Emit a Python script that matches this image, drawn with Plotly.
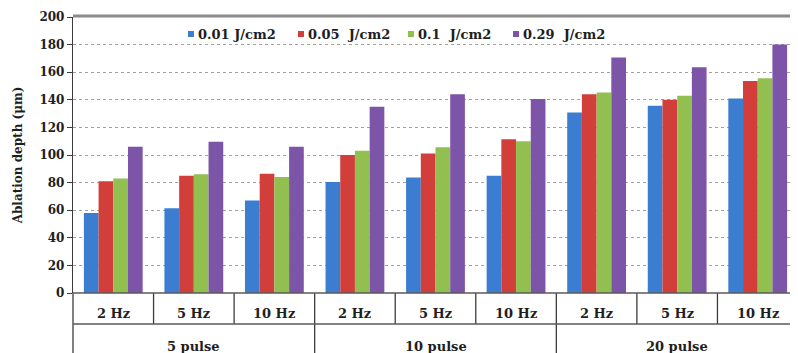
import plotly.graph_objects as go

groups = ["5 pulse", "10 pulse", "20 pulse"]
freqs = ["2 Hz", "5 Hz", "10 Hz"]
series_names = ["0.01 J/cm2", "0.05  J/cm2", "0.1  J/cm2", "0.29  J/cm2"]
s001 = [58, 61.5, 67, 80.5, 83.7, 85, 130.8, 135.6, 141]
s005 = [81, 85, 86.4, 100, 101, 111.5, 144, 140, 153.6]
s01 = [83, 86, 84, 103, 105.7, 110, 145.3, 143, 155.6]
s029 = [106, 109.6, 106, 135, 144, 140.5, 170.7, 163.5, 180]
colors = ["#3B7DD0", "#D23F3A", "#92C050", "#7D55A8"]

FONT = "DejaVu Serif, Liberation Serif, serif"
TXT = "#1e1e1e"
n = len(groups) * len(freqs)
xs = list(range(n))
xmin, xmax = -0.5, n - 0.5

# page body has an 8px margin: compensate so the plot area sits at x 73..798, y 17..293
OFF = 8
W, H = 798 - OFF, 353 - OFF
ML, MT, MB, MR = 73 - OFF, 17 - OFF, 60, 0
PW = W - ML - MR
PH = H - MT - MB


def px(v):
    return (v - xmin) / (xmax - xmin)


def pxx(p):  # screen x -> paper x
    return (p - 73) / PW


def pyy(p):  # screen y -> paper y
    return (293 - p) / PH


fig = go.Figure()
for name, vals, c in zip(series_names, [s001, s005, s01, s029], colors):
    fig.add_trace(go.Bar(x=xs, y=vals, name=name, showlegend=False,
                         marker=dict(color=c, line=dict(width=0))))

shapes = []
annotations = []
row1 = pyy(324)
row2 = pyy(353) - 0.01
for k in range(n + 1):
    xb = px(k - 0.5)
    is_group = (k % len(freqs) == 0)
    shapes.append(dict(type="line", xref="paper", yref="paper", x0=xb, x1=xb,
                       y0=0, y1=row2 if is_group else row1,
                       line=dict(color="#3c3c3c", width=1.3)))
shapes.append(dict(type="line", xref="paper", yref="paper", x0=0, x1=1, y0=row1, y1=row1,
                   line=dict(color="#5a5a5a", width=1.6)))
shapes.append(dict(type="line", xref="paper", yref="paper", x0=0, x1=1, y0=0, y1=0,
                   line=dict(color="#5a5a5a", width=1.5)))
shapes.append(dict(type="line", xref="paper", yref="paper", x0=0, x1=1, y0=pyy(16), y1=pyy(16),
                   line=dict(color="#8a8a8a", width=3)))

for gi, g in enumerate(groups):
    for fi, f in enumerate(freqs):
        annotations.append(dict(x=gi * len(freqs) + fi, xref="x", y=pyy(313), yref="paper",
                                text=f, showarrow=False, yanchor="middle",
                                font=dict(family=FONT, size=13, color=TXT, weight="bold")))
    annotations.append(dict(x=gi * len(freqs) + 1, xref="x", y=pyy(346), yref="paper",
                            text=g, showarrow=False, yanchor="middle",
                            font=dict(family=FONT, size=13, color=TXT, weight="bold")))

# legend drawn as swatches + text along the top of the plot
leg_left = [188, 298, 408, 513]
for name, c, lx in zip(series_names, colors, leg_left):
    shapes.append(dict(type="rect", xref="paper", yref="paper",
                       x0=pxx(lx), x1=pxx(lx + 6), y0=pyy(37), y1=pyy(31),
                       fillcolor=c, line=dict(width=0)))
    annotations.append(dict(x=pxx(lx + 8), xref="paper", y=pyy(34), yref="paper",
                            text=name.replace("  ", "&nbsp; "), showarrow=False,
                            xanchor="left", yanchor="middle",
                            font=dict(family=FONT, size=13, color=TXT, weight="bold")))

fig.update_layout(
    width=W, height=H,
    margin=dict(l=ML, r=MR, t=MT, b=MB, autoexpand=False),
    paper_bgcolor="white", plot_bgcolor="white",
    barmode="group", bargap=0.27, bargroupgap=0,
    font=dict(family=FONT, size=12, color=TXT),
    showlegend=False,
    shapes=shapes, annotations=annotations,
    xaxis=dict(range=[xmin, xmax], showticklabels=False, showgrid=False, zeroline=False,
               showline=False, ticks=""),
    yaxis=dict(range=[0, 200], dtick=20, showgrid=True, gridcolor="#a0a0a0", griddash="dot",
               gridwidth=1, zeroline=False, showline=True, linecolor="#3c3c3c", linewidth=1.3,
               ticks="outside", ticklen=5, tickcolor="#3c3c3c",
               tickfont=dict(family=FONT, size=12, color=TXT, weight="bold"),
               title=dict(text="Ablation depth (μm)", standoff=14,
                          font=dict(family=FONT, size=12, color=TXT, weight="bold"))),
)

fig.write_html("out.html")
